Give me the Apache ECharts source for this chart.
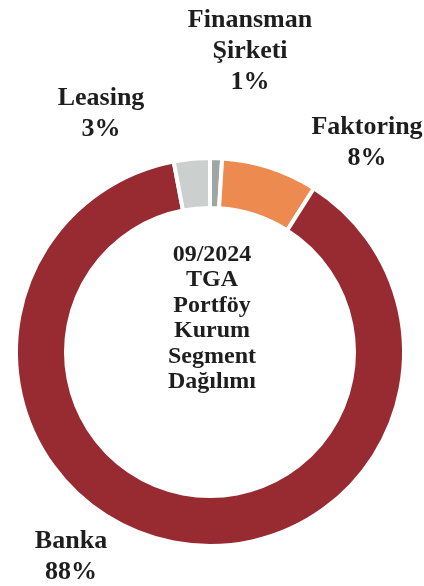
<!DOCTYPE html>
<html>
<head>
<meta charset="utf-8">
<script src="https://cdn.jsdelivr.net/npm/echarts@6/dist/echarts.min.js"></script>
<style>
  html, body { margin: 0; padding: 0; background: #fff; }
  #chart { width: 424px; height: 586px; }
</style>
</head>
<body>
<div id="chart"></div>
<script>
// segment names / shares (%)
const segmentNames = ['Finansman\nŞirketi', 'Faktoring', 'Banka', 'Leasing']
const segmentValues = [1, 8, 88, 3]
const segmentColors = ['#9fa7a6', '#ec8a50', '#982a32', '#cbd0cf']
const centerTitle = '09/2024\nTGA\nPortföy\nKurum\nSegment\nDağılımı'

// where each label block sits (x, y of block centre)
const labelPos = [
  [250, 51],
  [367, 143],
  [71, 557],
  [101, 114],
]

const FONT = "'Liberation Serif', 'Times New Roman', serif"

const chart = echarts.init(document.getElementById('chart'))
const option = {
  animation: false,
  graphic: [
    {
      type: 'text',
      left: 'center',
      top: 242,
      style: {
        text: centerTitle,
        x: 0,
        textAlign: 'center',
        font: 'bold 24px ' + FONT,
        lineHeight: 25.5,
        fill: '#1e1e1e',
      },
    },
  ],
  series: [
    {
      type: 'pie',
      center: [210, 352],
      radius: [144, 194],
      startAngle: 90,
      clockwise: true,
      avoidLabelOverlap: false,
      itemStyle: {
        borderColor: '#fff',
        borderWidth: 4,
      },
      label: {
        show: true,
        formatter: p => p.name + '\n' + p.value + '%',
        fontFamily: FONT,
        fontWeight: 'bold',
        fontSize: 26,
        lineHeight: 31,
        color: '#1e1e1e',
        align: 'center',
        overflow: 'none',
      },
      labelLine: { show: false },
      labelLayout: params => {
        const pos = labelPos[params.dataIndex]
        return {
          x: pos[0],
          y: pos[1],
          align: 'center',
          verticalAlign: 'middle',
        }
      },
      data: segmentNames.map((n, i) => ({
        name: n,
        value: segmentValues[i],
        itemStyle: { color: segmentColors[i] },
      })),
    },
  ],
}
chart.setOption(option)
</script>
</body>
</html>
